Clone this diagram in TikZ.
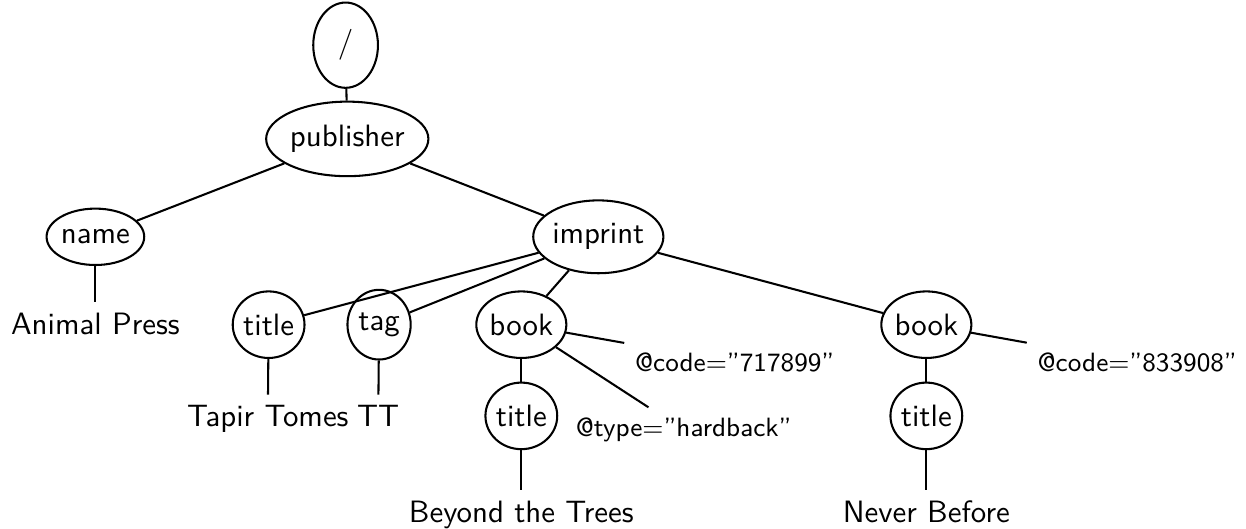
\documentclass[tikz,border=0pt]{standalone}
\usepackage{tikz}
\usetikzlibrary{shapes.geometric}

\begin{document}
\begin{tikzpicture}[font=\sffamily\fontsize{10.5}{12.6}\selectfont, line width=0.7pt,
    elem/.style={draw, ellipse, inner xsep=0pt, inner ysep=4.3pt},
    txt/.style={anchor=base},
    attr/.style={anchor=base, font=\sffamily\fontsize{9}{11}\selectfont}]
    \useasboundingbox (0, 0) rectangle (14.89, 6.32);

    % Elements
    \node [elem, minimum width=22pt, minimum height=29pt] (root) at (4.13, 5.78) {/};
    \node [elem] (publisher) at (4.15, 4.66) {publisher};
    \node [elem] (name) at (1.14, 3.49) {name};
    \node [elem] (imprint) at (7.15, 3.49) {imprint};
    \node [elem] (title1) at (3.21, 2.44) {title};
    \node [elem, minimum width=21.5pt] (tag) at (4.53, 2.44) {tag};
    \node [elem] (book1) at (6.23, 2.44) {book};
    \node [elem] (book2) at (11.07, 2.44) {book};
    \node [elem] (title2) at (6.23, 1.35) {title};
    \node [elem] (title3) at (11.07, 1.35) {title};

    % Text and attributes
    \node [txt] (animal) at (1.14, 2.32) {Animal Press};
    \node [txt] (tapir) at (3.20, 1.22) {Tapir Tomes};
    \node [txt] (tt) at (4.52, 1.22) {TT};
    \node [txt] (beyond) at (6.23, 0.08) {Beyond the Trees};
    \node [txt] (never) at (11.07, 0.08) {Never Before};
    \node [attr] (code1) at (8.78, 1.88) {@code=''717899''};
    \node [attr] (type) at (8.17, 1.10) {@type=''hardback''};
    \node [attr] (code2) at (13.59, 1.88) {@code=''833908''};

    % Edges
    \draw (root) -- (publisher);
    \draw (publisher) -- (name);
    \draw (publisher) -- (imprint);
    \draw (name) -- (animal);
    \draw (imprint) -- (title1);
    \draw (imprint) -- (tag);
    \draw (imprint) -- (book1);
    \draw (imprint) -- (book2);
    \draw (title1) -- (tapir);
    \draw (tag) -- (tt);
    \draw (book1) -- (title2);
    \draw (book1) -- (code1);
    \draw (book1) -- (type);
    \draw (title2) -- (beyond);
    \draw (book2) -- (title3);
    \draw (book2) -- (code2);
    \draw (title3) -- (never);
  \end{tikzpicture}
\end{document}
